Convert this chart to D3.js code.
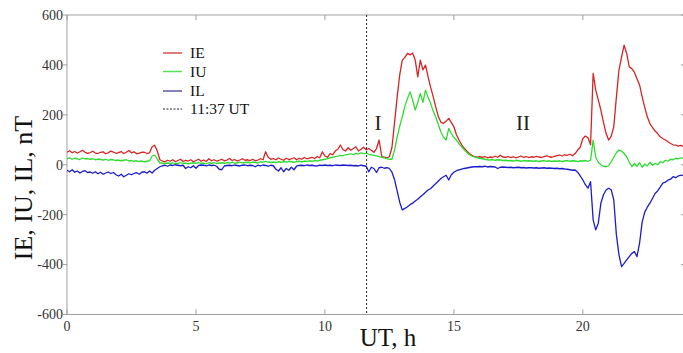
<!DOCTYPE html>
<html>
<head>
<meta charset="utf-8">
<script src="https://cdn.jsdelivr.net/npm/d3@7"></script>
<style>
  body { margin: 0; background: #fff; }
  svg { display: block; font-family: "Liberation Serif", "DejaVu Serif", serif; }
</style>
</head>
<body>
<div id="chart"></div>
<script>
// hours 0.0 .. 24.0 at 0.1 h sampling
const hours = d3.range(0, 241).map(i => i / 10);

const ie = [
  50,56,48,53,47,52,58,50,46,49,
  54,47,45,50,52,44,48,55,51,46,
  49,53,45,50,57,48,52,44,47,50,
  50,45,48,72,78,55,20,15,12,18,
  14,20,12,17,22,13,18,15,20,12,
  17,22,14,19,13,24,16,20,15,18,
  22,16,19,25,17,21,15,19,24,18,
  20,17,22,16,19,24,20,52,30,22,
  25,20,27,22,18,26,21,24,28,20,
  26,22,29,24,27,30,25,33,28,52,
  35,30,45,40,55,62,79,60,55,68,
  58,65,72,55,62,70,60,65,58,50,
  65,99,35,30,28,32,70,170,270,360,
  419,430,446,440,448,420,352,419,380,399,
  352,310,272,230,192,170,166,175,186,170,
  152,120,99,80,66,55,45,38,32,30,
  32,30,33,28,31,29,34,30,38,31,
  30,33,29,32,28,31,35,30,33,29,
  32,30,34,31,29,33,36,32,30,34,
  37,39,35,40,38,42,36,45,59,70,
  105,115,108,80,366,299,260,219,170,126,
  99,115,152,270,379,430,479,446,392,385,
  370,345,320,272,230,192,165,150,135,125,
  112,105,99,92,85,80,79,75,78,72,
  70
];

const iu = [
  25,28,22,26,24,21,27,23,25,22,
  24,20,23,21,19,22,18,21,20,17,
  19,16,18,20,15,17,14,16,13,15,
  12,14,16,35,39,22,8,6,5,7,
  5,8,4,6,9,5,7,4,6,8,
  6,9,5,7,4,8,6,9,5,7,
  8,6,9,7,10,6,8,11,7,9,
  10,8,11,9,7,12,10,14,11,9,
  11,9,12,10,13,11,14,12,10,13,
  14,12,15,13,16,14,17,15,18,20,
  22,25,28,30,33,35,38,36,40,42,
  44,40,46,43,48,45,47,42,40,38,
  36,33,30,28,25,22,22,60,110,155,
  192,235,265,292,260,219,250,286,250,299,
  270,246,215,190,160,130,110,99,146,125,
  110,99,85,72,60,50,40,35,32,28,
  26,24,22,20,19,21,18,20,19,17,
  18,16,17,15,18,16,14,17,15,16,
  15,14,16,13,15,17,14,16,13,15,
  14,16,13,15,17,14,16,15,13,16,
  15,17,14,18,99,30,10,0,-6,-8,
  -4,12,30,48,59,55,45,32,10,-8,
  5,-6,8,-10,3,-5,10,-2,6,0,
  12,8,18,14,22,20,26,24,28,25,
  26
];

const il = [
  -22,-28,-20,-30,-25,-33,-27,-24,-31,-29,
  -34,-28,-36,-30,-38,-33,-29,-35,-31,-40,
  -45,-38,-48,-42,-36,-40,-35,-32,-38,-30,
  -28,-34,-25,-33,-22,-15,-8,-4,-2,-6,
  -1,-3,0,-2,-4,-2,-15,-8,-12,-4,
  -14,-3,-1,-2,-5,-1,-3,-2,-6,-18,
  -20,-5,-3,-2,-4,-1,-3,-5,-2,-1,
  -4,-2,-3,-8,-2,-5,-1,-3,-6,-2,
  -4,-18,-25,-12,-28,-15,-22,-10,-20,-6,
  -3,-2,-4,-1,-3,-2,-4,-5,-2,-3,
  -1,-3,-2,-4,-1,-2,-3,-1,-2,-3,
  -2,-4,-3,-5,-2,-4,-6,-28,-10,-15,
  -31,-12,-10,-14,-12,-15,-30,-60,-105,-150,
  -181,-175,-168,-160,-154,-145,-138,-128,-120,-110,
  -101,-95,-85,-75,-65,-55,-48,-42,-61,-40,
  -30,-24,-21,-18,-15,-13,-11,-9,-8,-8,
  -7,-8,-6,-9,-7,-8,-9,-15,-10,-9,
  -10,-11,-10,-12,-11,-10,-12,-11,-13,-12,
  -12,-13,-12,-14,-13,-12,-14,-13,-14,-15,
  -14,-16,-15,-17,-18,-20,-22,-21,-30,-45,
  -61,-80,-94,-68,-221,-261,-234,-154,-120,-101,
  -94,-100,-141,-280,-360,-408,-395,-381,-368,-355,
  -348,-368,-314,-230,-190,-170,-154,-135,-115,-105,
  -90,-74,-70,-62,-58,-48,-52,-45,-43,-41,
  -40
];

const xTicks = [0, 5, 10, 15, 20];
const yTicks = [-600, -400, -200, 0, 200, 400, 600];
const onsetHour = 11 + 37 / 60;
const seriesNames = ['IE', 'IU', 'IL'];
const seriesColors = ['#d62424', '#2edc2e', '#1c1ccc'];
const legendColors = ['#d65050', '#55e055', '#5a5aa8'];

const width = 683, height = 353;
const svg = d3.select('#chart').append('svg').attr('width', width).attr('height', height);

const x = d3.scaleLinear().domain([0, 24]).range([67, 686]);
const y = d3.scaleLinear().domain([-600, 600]).range([314.5, 15]);

const axisColor = '#a0a0a0';

// frame
svg.append('line').attr('x1', x(0)).attr('x2', width).attr('y1', y(600)).attr('y2', y(600))
  .attr('stroke', axisColor);
svg.append('line').attr('x1', x(0)).attr('x2', width).attr('y1', y(-600)).attr('y2', y(-600))
  .attr('stroke', axisColor);
svg.append('line').attr('x1', x(0)).attr('x2', x(0)).attr('y1', y(600)).attr('y2', y(-600))
  .attr('stroke', axisColor);

// x ticks (inward, top and bottom)
xTicks.forEach(t => {
  svg.append('line').attr('x1', x(t)).attr('x2', x(t)).attr('y1', y(-600)).attr('y2', y(-600) - 5)
    .attr('stroke', axisColor);
  svg.append('line').attr('x1', x(t)).attr('x2', x(t)).attr('y1', y(600)).attr('y2', y(600) + 5)
    .attr('stroke', axisColor);
  svg.append('text').attr('x', x(t)).attr('y', 331).attr('text-anchor', 'middle')
    .attr('font-size', '14px').attr('fill', '#333').text(t);
});

// y ticks (outward left, inward right)
yTicks.forEach(t => {
  svg.append('line').attr('x1', x(0) - 4).attr('x2', x(0)).attr('y1', y(t)).attr('y2', y(t))
    .attr('stroke', axisColor);
  svg.append('line').attr('x1', x(24) - 5).attr('x2', x(24)).attr('y1', y(t)).attr('y2', y(t))
    .attr('stroke', axisColor);
  svg.append('text').attr('x', 63).attr('y', y(t)).attr('dy', '0.35em').attr('text-anchor', 'end')
    .attr('font-size', '14px').attr('fill', '#333').text(t);
});

// axis titles
svg.append('text').attr('transform', 'translate(32,' + 188 + ') rotate(-90)')
  .attr('text-anchor', 'middle').attr('font-size', '26px').attr('fill', '#111')
  .text('IE, IU, IL, nT');
svg.append('text').attr('x', 388).attr('y', 346).attr('text-anchor', 'middle')
  .attr('font-size', '25px').attr('fill', '#111').text('UT, h');

// series
const line = d3.line().x(d => x(d[0])).y(d => y(d[1]));
[ie, iu, il].forEach((vals, i) => {
  const data = hours.map((h, k) => [h, vals[k]]);
  svg.append('path').datum(data)
    .attr('fill', 'none')
    .attr('stroke', seriesColors[i])
    .attr('stroke-width', 1.3)
    .attr('stroke-linejoin', 'round')
    .attr('d', line);
});

// 11:37 UT marker
svg.append('line').attr('x1', x(onsetHour)).attr('x2', x(onsetHour))
  .attr('y1', y(600)).attr('y2', y(-600))
  .attr('stroke', '#222').attr('stroke-width', 1).attr('stroke-dasharray', '2,2');

// phase labels
svg.append('text').attr('x', 378).attr('y', 130).attr('text-anchor', 'middle')
  .attr('font-size', '21px').attr('fill', '#222').text('I');
svg.append('text').attr('x', 523).attr('y', 130).attr('text-anchor', 'middle')
  .attr('font-size', '21px').attr('fill', '#222').text('II');

// legend
const legendY = [53, 71.5, 91];
seriesNames.forEach((name, i) => {
  svg.append('line').attr('x1', 163).attr('x2', 182).attr('y1', legendY[i]).attr('y2', legendY[i])
    .attr('stroke', legendColors[i]).attr('stroke-width', 1.5);
  svg.append('text').attr('x', 190).attr('y', legendY[i]).attr('dy', '0.35em')
    .attr('font-size', '15.5px').attr('fill', '#111').text(name);
});
svg.append('line').attr('x1', 163).attr('x2', 182).attr('y1', 109).attr('y2', 109)
  .attr('stroke', '#222').attr('stroke-dasharray', '2,1.5');
svg.append('text').attr('x', 190).attr('y', 109).attr('dy', '0.35em')
  .attr('font-size', '15.5px').attr('fill', '#111').text('11:37 UT');
</script>
</body>
</html>
